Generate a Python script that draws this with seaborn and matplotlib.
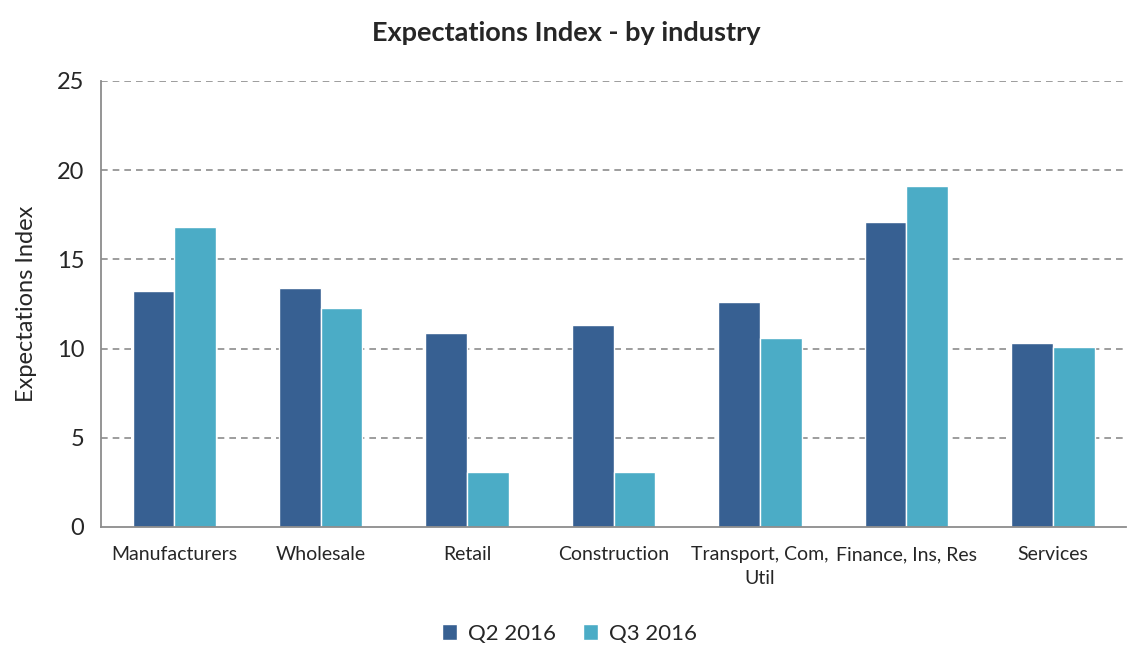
import pandas as pd
import numpy as np
import seaborn as sns
import matplotlib.pyplot as plt
from matplotlib.ticker import FixedLocator

# values
industries = ['Manufacturers', 'Wholesale', 'Retail', 'Construction',
              'Transport, Com,\nUtil', 'Finance, Ins, Res', 'Services']
q2_2016 = [13.2, 13.4, 10.9, 11.3, 12.6, 17.1, 10.3]
q3_2016 = [16.8, 12.3, 3.1, 3.1, 10.6, 19.1, 10.1]
series_names = ['Q2 2016', 'Q3 2016']
colors = ['#376092', '#4BACC6']

df = pd.DataFrame({
    'industry': industries * 2,
    'value': q2_2016 + q3_2016,
    'period': [series_names[0]] * len(industries) + [series_names[1]] * len(industries),
})

sns.set_style('white')
plt.rcParams['font.family'] = ['Lato', 'DejaVu Sans']

fig = plt.figure(figsize=(11.39, 6.67), dpi=100)
ax = fig.add_axes([0.0887, 0.2099, 0.8999, 0.6687])

sns.barplot(data=df, x='industry', y='value', hue='period', palette=colors,
            width=0.57, saturation=1, ax=ax, order=industries, hue_order=series_names)

# gridlines
ax.set_ylim(0, 25)
ax.set_yticks(np.arange(0, 26, 5))
ax.set_xlim(-0.5, len(industries) - 0.5)
for yv in range(5, 26, 5):
    ax.axhline(yv, color='#8c8c8c', linestyle=(0, (4, 3)), linewidth=1.2, zorder=0)
ax.set_axisbelow(True)

for s in ['top', 'right']:
    ax.spines[s].set_visible(False)
for s in ['left', 'bottom']:
    ax.spines[s].set_color('#8c8c8c')
    ax.spines[s].set_linewidth(1.3)

# x tick marks between categories, labels centred
ax.xaxis.set_major_locator(FixedLocator(np.arange(-0.5, len(industries), 1)))
ax.xaxis.set_minor_locator(FixedLocator(np.arange(len(industries))))
ax.set_xticklabels([])
ax.set_xticklabels(industries, minor=True, linespacing=1.5)
ax.tick_params(axis='x', which='major', length=6, width=1.3, color='#8c8c8c', direction='out')
ax.tick_params(axis='x', which='minor', length=0, labelsize=14, pad=14)
ax.tick_params(axis='y', length=6, width=1.3, color='#8c8c8c', direction='out', labelsize=17, pad=6)

ax.set_xlabel('')
ax.set_ylabel('Expectations Index', fontsize=17, labelpad=14)
fig.suptitle('Expectations Index - by industry', fontsize=19.5, fontweight='bold',
             x=0.497, y=0.968)

ax.legend_.remove()
handles, labels = ax.get_legend_handles_labels()
fig.legend(handles, labels, loc='center', bbox_to_anchor=(0.5, 0.05), ncol=2, frameon=False,
           fontsize=16, handlelength=0.7, handleheight=0.7, handletextpad=0.5,
           columnspacing=1.2)

fig.savefig('out.png', dpi=100)
